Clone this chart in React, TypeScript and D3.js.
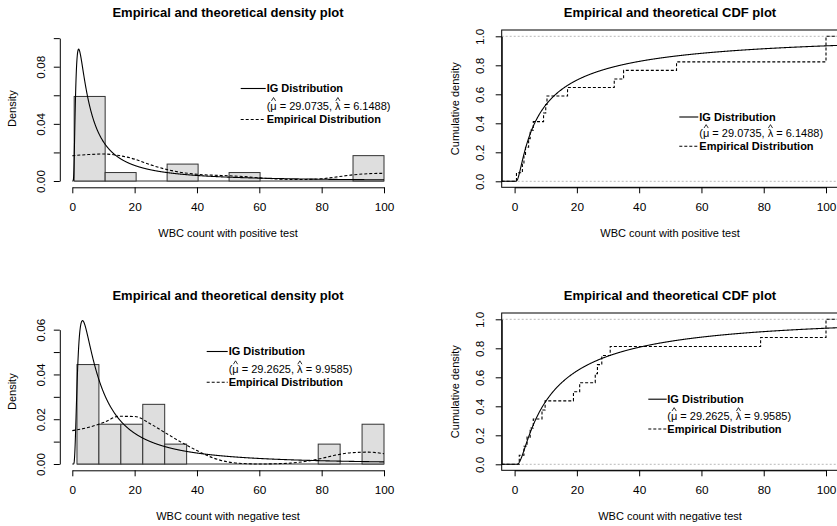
import React, { useEffect, useRef } from "react";
import * as d3 from "d3";

// ---------------- data ----------------
const positiveWBC = [0.6, 2.5, 3, 3.5, 4.5, 5, 6, 9.3, 10, 10.4, 17, 32, 35, 52, 100, 100, 100];
const negativeWBC = [1.5, 3, 4, 5, 6, 8.8, 9.8, 18.9, 20.9, 25.9, 26.6, 28, 30.7, 79, 100, 100];
const positiveBins = 10;
const negativeBins = 14;
const positiveMu = 29.0735;
const positiveLambda = 6.1488;
const negativeMu = 29.2625;
const negativeLambda = 9.9585;
const kdeGrid = [0, 5, 10, 15, 20, 25, 30, 35, 40, 45, 50, 55, 60, 65, 70, 75, 80, 85, 90, 95, 100];
const positiveKde = [0.0177, 0.0185, 0.0189, 0.0178, 0.0153, 0.0114, 0.0082, 0.006, 0.0047, 0.0041, 0.0037, 0.0031, 0.0022, 0.0015, 0.0011, 0.0011, 0.0016, 0.0029, 0.0043, 0.0051, 0.0054];
const negativeKde = [0.0149, 0.0163, 0.0185, 0.0213, 0.0212, 0.018, 0.0138, 0.0097, 0.006, 0.0028, 0.0009, 0.0002, 0.0, 0.0001, 0.0004, 0.0012, 0.0025, 0.0041, 0.0051, 0.0053, 0.0046];
const xTicks = [0, 20, 40, 60, 80, 100];
const positiveDensityTicks = [0, 0.02, 0.04, 0.06, 0.08, 0.1];
const positiveDensityLabels = [0, 0.04, 0.08];
const negativeDensityTicks = [0, 0.01, 0.02, 0.03, 0.04, 0.05, 0.06];
const negativeDensityLabels = [0, 0.02, 0.04, 0.06];
const cdfTicks = [0, 0.2, 0.4, 0.6, 0.8, 1];
const xLabels = ["WBC count with positive test", "WBC count with negative test"];
const densityTitle = "Empirical and theoretical density plot";
const cdfTitle = "Empirical and theoretical CDF plot";
const legendLabels = ["IG Distribution", "Empirical Distribution"];

const FONT = "'Liberation Sans', Arial, Helvetica, sans-serif";
const TICK_FS = 11.8;

// ---------------- distribution helpers ----------------
function erf(x: number) {
  const s = x < 0 ? -1 : 1;
  const a = Math.abs(x);
  const t = 1 / (1 + 0.3275911 * a);
  const y = 1 - ((((1.061405429 * t - 1.453152027) * t + 1.421413741) * t - 0.284496736) * t + 0.254829592) * t * Math.exp(-a * a);
  return s * y;
}
const phi = (z: number) => 0.5 * (1 + erf(z / Math.SQRT2));
function igPdf(x: number, mu: number, lam: number) {
  if (x <= 0) return 0;
  return Math.sqrt(lam / (2 * Math.PI * x * x * x)) * Math.exp((-lam * (x - mu) * (x - mu)) / (2 * mu * mu * x));
}
function igCdf(x: number, mu: number, lam: number) {
  if (x <= 0) return 0;
  const r = Math.sqrt(lam / x);
  return phi(r * (x / mu - 1)) + Math.exp((2 * lam) / mu) * phi(-r * (x / mu + 1));
}

type Sel = d3.Selection<any, any, any, any>;

function addText(g: Sel, x: number, y: number, txt: string, size: number, bold = false, anchor = "middle", rotate = false) {
  const t = g
    .append("text")
    .attr("font-family", FONT)
    .attr("font-size", size)
    .attr("font-weight", bold ? "bold" : "normal")
    .attr("text-anchor", anchor)
    .attr("fill", "#000")
    .text(txt);
  if (rotate) t.attr("transform", `translate(${x},${y}) rotate(-90)`);
  else t.attr("x", x).attr("y", y);
  return t;
}

function legend(g: Sel, lx1: number, lx2: number, tx: number, r1: number, r2: number, r3: number, mu: number, lam: number) {
  const b = 3.94;
  g.append("line").attr("x1", lx1).attr("x2", lx2).attr("y1", r1).attr("y2", r1).attr("stroke", "#000").attr("stroke-width", 1.1);
  g.append("line").attr("x1", lx1).attr("x2", lx2).attr("y1", r3).attr("y2", r3).attr("stroke", "#000").attr("stroke-width", 1.1).attr("stroke-dasharray", "3,2");
  addText(g, tx, r1 + b, legendLabels[0], 11, true, "start");
  addText(g, tx, r3 + b, legendLabels[1], 11, true, "start");
  const str = `(\u03bc = ${mu}, \u03bb = ${lam})`;
  const yb = r2 + b;
  const t = addText(g, tx, yb, str, 11, false, "start");
  const node = t.node() as SVGTextElement;
  ["\u03bc", "\u03bb"].forEach((ch) => {
    const i = str.indexOf(ch);
    let cx = tx;
    try {
      const s = node.getStartPositionOfChar(i).x;
      const e = node.getEndPositionOfChar(i).x;
      cx = (s + e) / 2;
    } catch (err) {}
    g.append("path")
      .attr("d", `M${cx - 2.1},${yb - 9.2} L${cx},${yb - 12.6} L${cx + 2.1},${yb - 9.2}`)
      .attr("fill", "none")
      .attr("stroke", "#000")
      .attr("stroke-width", 0.8);
  });
}

function xAxis(g: Sel, x: d3.ScaleLinear<number, number>, yPos: number) {
  const ax = d3.axisBottom(x).tickValues(xTicks).tickSize(6).tickSizeOuter(0).tickPadding(9.4).tickFormat((v) => String(v));
  const gg = g.append("g").attr("transform", `translate(0,${yPos})`).call(ax as any);
  gg.attr("font-family", FONT).attr("font-size", TICK_FS);
  gg.selectAll("text").attr("fill", "#000");
  gg.selectAll("line,path").attr("stroke", "#000");
}

function yAxis(g: Sel, y: d3.ScaleLinear<number, number>, xPos: number, ticks: number[], labels: number[], digits: number, baseX: number) {
  const ax = d3
    .axisLeft(y)
    .tickValues(ticks)
    .tickSize(6)
    .tickSizeOuter(0)
    .tickFormat((v: any) => (labels.includes(v) ? (+v).toFixed(digits) : ""));
  const gg = g.append("g").attr("transform", `translate(${xPos},0)`).call(ax as any);
  gg.attr("font-family", FONT).attr("font-size", TICK_FS);
  gg.selectAll("text")
    .attr("x", null)
    .attr("dy", null)
    .attr("text-anchor", "middle")
    .attr("fill", "#000")
    .attr("transform", `translate(${baseX - xPos},0) rotate(-90)`);
  gg.selectAll("line,path").attr("stroke", "#000");
}

function densityPanel(svg: Sel, dy: number, data: number[], nbins: number, mu: number, lam: number, kde: number[], ticks: number[], labels: number[], pxPerUnit: number, xlabel: string, leg: number[]) {
  const g = svg.append("g");
  const x = d3.scaleLinear().domain([0, 100]).range([72.3, 384]);
  const topVal = ticks[ticks.length - 1];
  const y0 = 181 + dy;
  const y = d3.scaleLinear().domain([0, topVal]).range([y0, y0 - topVal * pxPerUnit]);

  const lo = d3.min(data) as number;
  const hi = d3.max(data) as number;
  const breaks = d3.range(nbins + 1).map((i) => lo + (i * (hi - lo)) / nbins);
  const bins = d3.bin().domain([lo, hi]).thresholds(breaks.slice(1, -1))(data);
  const n = data.length;
  g.append("line").attr("x1", x(lo)).attr("x2", x(hi)).attr("y1", y(0)).attr("y2", y(0)).attr("stroke", "#333");
  bins.forEach((b: any) => {
    if (!b.length) return;
    const d = b.length / (n * (b.x1 - b.x0));
    g.append("rect")
      .attr("x", x(b.x0))
      .attr("y", y(d))
      .attr("width", x(b.x1) - x(b.x0))
      .attr("height", y(0) - y(d))
      .attr("fill", "#dedede")
      .attr("stroke", "#333")
      .attr("stroke-width", 1);
  });

  const pts: [number, number][] = [];
  for (let v = 0; v <= 100.0001; v += 0.05) pts.push([v, igPdf(v, mu, lam)]);
  g.append("path")
    .attr("d", d3.line().x((p) => x(p[0])).y((p) => y(p[1]))(pts) as string)
    .attr("fill", "none")
    .attr("stroke", "#000")
    .attr("stroke-width", 1.1);

  const kp: [number, number][] = kdeGrid.map((v, i) => [v, kde[i]]);
  g.append("path")
    .attr("d", d3.line().curve(d3.curveMonotoneX).x((p) => x(p[0])).y((p) => y(p[1]))(kp) as string)
    .attr("fill", "none")
    .attr("stroke", "#000")
    .attr("stroke-width", 1.1)
    .attr("stroke-dasharray", "3,2");

  xAxis(g, x, 187.3 + dy);
  yAxis(g, y, 59.8, ticks, labels, 2, 45.2);

  addText(g, 228, 17 + dy, densityTitle, 13, true);
  addText(g, 228, 236.9 + dy, xlabel, 11);
  addText(g, 16.3, 108.7 + dy, "Density", 11, false, "middle", true);

  legend(g, leg[0], leg[1], leg[2], leg[3] + dy, leg[4] + dy, leg[5] + dy, mu, lam);
}

let clipId = 0;
function cdfPanel(svg: Sel, dy: number, data: number[], mu: number, lam: number, xlabel: string, leg: number[]) {
  const g = svg.append("g");
  const x = d3.scaleLinear().domain([0, 100]).range([514.6, 826]);
  const y = d3.scaleLinear().domain([0, 1]).range([181.3 + dy, 36.3 + dy]);
  const bx0 = 501.7, bx1 = 838.4, by0 = 30 + dy, by1 = 187.3 + dy;

  const id = `clip${clipId++}`;
  svg.append("defs").append("clipPath").attr("id", id).append("rect").attr("x", bx0).attr("y", by0).attr("width", bx1 - bx0).attr("height", by1 - by0);
  const c = g.append("g").attr("clip-path", `url(#${id})`);

  [0, 1].forEach((v) => {
    c.append("line").attr("x1", bx0).attr("x2", bx1).attr("y1", y(v)).attr("y2", y(v)).attr("stroke", "#b8b8b8").attr("stroke-width", 1).attr("stroke-dasharray", "2,2");
  });

  const sorted = data.slice().sort((a, b) => a - b);
  const n = sorted.length;
  const uniq = Array.from(new Set(sorted));
  let dstr = `M${bx0},${y(0)}`;
  uniq.forEach((v) => {
    const F = sorted.filter((s) => s <= v).length / n;
    dstr += ` H${x(v)} V${y(F)}`;
  });
  dstr += ` H${bx1}`;
  c.append("path").attr("d", dstr).attr("fill", "none").attr("stroke", "#000").attr("stroke-width", 1.1).attr("stroke-dasharray", "3,2");

  const pts: [number, number][] = [];
  for (let v = -4.5; v <= 105; v += 0.1) pts.push([v, igCdf(v, mu, lam)]);
  c.append("path")
    .attr("d", d3.line().x((p) => x(p[0])).y((p) => y(p[1]))(pts) as string)
    .attr("fill", "none")
    .attr("stroke", "#000")
    .attr("stroke-width", 1.1);

  g.append("rect").attr("x", bx0).attr("y", by0).attr("width", bx1 - bx0).attr("height", by1 - by0).attr("fill", "none").attr("stroke", "#000").attr("stroke-width", 1);

  xAxis(g, x, by1);
  yAxis(g, y, bx0, cdfTicks, cdfTicks, 1, 483.9);

  addText(g, 670, 17 + dy, cdfTitle, 13, true);
  addText(g, 670, 236.9 + dy, xlabel, 11);
  addText(g, 459.2, 108.7 + dy, "Cumulative density", 11, false, "middle", true);

  legend(g, leg[0], leg[1], leg[2], leg[3] + dy, leg[4] + dy, leg[5] + dy, mu, lam);
}

export default function App() {
  const ref = useRef<SVGSVGElement>(null);
  useEffect(() => {
    document.body.style.margin = "0";
    const svg = d3.select(ref.current);
    svg.selectAll("*").remove();
    clipId = 0;
    svg.append("rect").attr("width", 837).attr("height", 526).attr("fill", "#fff");
    densityPanel(svg, 0, positiveWBC, positiveBins, positiveMu, positiveLambda, positiveKde, positiveDensityTicks, positiveDensityLabels, 1428.75, xLabels[0], [240.7, 265.7, 266.7, 88.5, 106.2, 119.5]);
    cdfPanel(svg, 0, positiveWBC, positiveMu, positiveLambda, xLabels[0], [679.3, 698.3, 699.3, 117, 133.3, 146.3]);
    densityPanel(svg, 283, negativeWBC, negativeBins, negativeMu, negativeLambda, negativeKde, negativeDensityTicks, negativeDensityLabels, 2238.9, xLabels[1], [206.7, 227.7, 228.7, 68.5, 86.5, 99.2]);
    cdfPanel(svg, 283, negativeWBC, negativeMu, negativeLambda, xLabels[1], [648.3, 666.7, 667.3, 116.2, 133.3, 146]);
  }, []);
  return <svg ref={ref} width={837} height={526} style={{ display: "block", position: "absolute", left: 0, top: 0 }} />;
}
